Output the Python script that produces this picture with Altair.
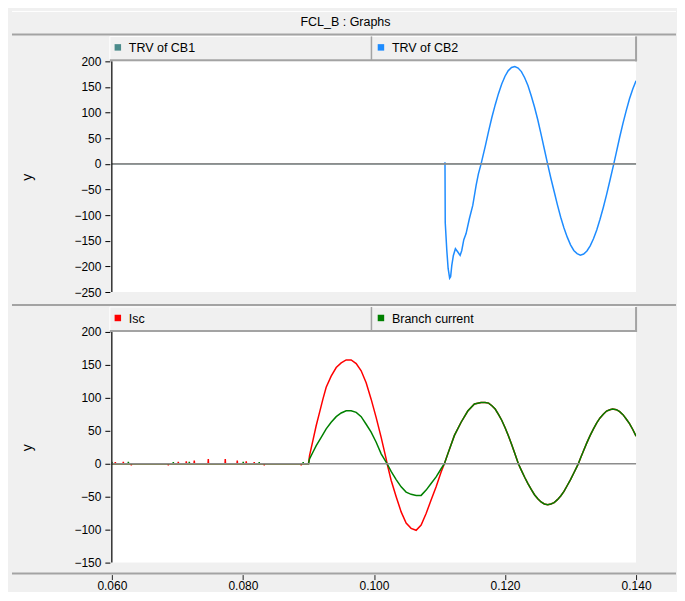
import altair as alt
import pandas as pd

# ---------------- data ----------------
title_text = "FCL_B : Graphs"
x_ticks = [0.06, 0.08, 0.10, 0.12, 0.14]
top_y_ticks = [-250, -200, -150, -100, -50, 0, 50, 100, 150, 200]
bot_y_ticks = [-150, -100, -50, 0, 50, 100, 150, 200]

top_names = ["TRV of CB1", "TRV of CB2"]
top_colors = ["#4a8a8a", "#1e8cff"]
bot_names = ["Isc", "Branch current"]
bot_colors = ["#ff0000", "#008000"]

# TRV of CB1 (flat at zero, hidden under the zero line)
cb1_t = [0.06, 0.14]
cb1_v = [0, 0]

# TRV of CB2
cb2_t = [0.11080, 0.11084, 0.11088, 0.11112, 0.11132, 0.11155, 0.11170, 0.11188,
         0.11212, 0.11243, 0.11280, 0.11315, 0.11340, 0.11371, 0.11406, 0.11456,
         0.11508, 0.11559, 0.11594, 0.11635, 0.1170, 0.1175, 0.1180, 0.1185,
         0.1190, 0.1195, 0.1200, 0.1205, 0.1210, 0.1215, 0.1220, 0.1225, 0.1230,
         0.1235, 0.1240, 0.1245, 0.1250, 0.1255, 0.1260, 0.1265, 0.1270, 0.1275,
         0.1280, 0.1285, 0.1290, 0.1295, 0.1300, 0.1305, 0.1310, 0.1315, 0.1320,
         0.1325, 0.1330, 0.1335, 0.1340, 0.1345, 0.1350, 0.1355, 0.1360, 0.1366,
         0.1370, 0.1375, 0.1380, 0.1385, 0.1390, 0.1395, 0.1400]
cb2_v = [0, 3, -115, -169, -204, -223, -220, -198,
         -178.6, -165.6, -172, -178.6, -169, -148, -136, -107,
         -81, -42, -19.5, 0, 35, 64, 91, 115,
         137, 156, 171, 182, 188, 190, 187, 180, 168,
         153, 133, 111, 86, 58, 29, 0, -28, -54,
         -80, -104, -125, -143, -158, -169, -175, -178, -176,
         -170, -160, -146, -129, -108, -85, -60, -33, 0,
         23, 52, 79, 104, 127, 146, 162]

# common part of Isc and Branch current after ~0.1108 s
tail_t = [0.11127, 0.11228, 0.11330, 0.11432, 0.11533, 0.11635, 0.11696, 0.1175,
          0.1180, 0.1185, 0.1190, 0.1195, 0.1200, 0.1205, 0.1210, 0.1215, 0.12204,
          0.1225, 0.1230, 0.1235, 0.1240, 0.1245, 0.1250, 0.1255, 0.1260, 0.12652,
          0.1270, 0.1275, 0.1280, 0.1285, 0.1290, 0.1295, 0.1300, 0.1305, 0.1310,
          0.13119, 0.1315, 0.1320, 0.1325, 0.1330, 0.1335, 0.1340, 0.1345, 0.1350,
          0.1355, 0.1360, 0.13643, 0.1370, 0.1375, 0.1380, 0.1385, 0.1390, 0.1395,
          0.1400]
tail_v = [15, 43, 63, 80, 90.6, 93, 93, 92,
          88, 83, 75, 66, 55, 43, 29.5, 15.5, 0,
          -10, -20.5, -30, -39, -47, -53, -58, -61, -62,
          -61, -59, -54.5, -49, -42, -33, -24, -14, -4,
          0, 8, 20, 32, 43, 53, 62, 69.5, 75,
          80, 82, 83, 82, 79, 74.5, 68, 61, 52,
          42]

# Isc
isc_t = [0.0600,
         0.06049, 0.06053, 0.06057, 0.06171, 0.06175, 0.06179,
         0.06293, 0.06297, 0.06301, 0.06858, 0.06862, 0.06866,
         0.07010, 0.07014, 0.07018, 0.07132, 0.07136, 0.07140,
         0.07254, 0.07258, 0.07262, 0.07468, 0.07472, 0.07476,
         0.07727, 0.07731, 0.07735, 0.07910, 0.07914, 0.07918,
         0.08047, 0.08051, 0.08055, 0.08169, 0.08173, 0.08177,
         0.08322, 0.08326, 0.08330, 0.08886, 0.08890, 0.08894,
         0.09001, 0.09017, 0.09068, 0.09119, 0.09170, 0.09221, 0.09271, 0.09347,
         0.09424, 0.09500, 0.09576, 0.09652, 0.09729, 0.09805, 0.09881, 0.09957,
         0.10034, 0.10110, 0.10186, 0.10201, 0.10262, 0.10339, 0.10415, 0.10491,
         0.10567, 0.10644, 0.10720, 0.10796, 0.10872, 0.10949, 0.11025, 0.11075] + tail_t
isc_v = [0,
         0, 2.5, 0, 0, 3, 0,
         0, -2.5, 0, 0, -2.5, 0,
         0, 3, 0, 0, 3.5, 0,
         0, 5, 0, 0, 7, 0,
         0, 7, 0, 0, 5, 0,
         0, 3.5, 0, 0, 2.5, 0,
         0, -2.5, 0, 0, -2.5, 0,
         0, 12.5, 35, 58, 78, 98, 116, 133,
         146, 153, 157.5, 157.5, 152, 141, 123, 98,
         70, 40, 7.5, 0, -25, -50, -73, -90,
         -98, -101, -93, -75.5, -55, -35, -12.6, 0] + tail_v

# Branch current
br_t = [0.0600, 0.06004,
        0.06248, 0.06252, 0.06256, 0.06934, 0.06938, 0.06942,
        0.07178, 0.07182, 0.07186, 0.08001, 0.08005, 0.08009,
        0.08245, 0.08249, 0.08253, 0.08916, 0.08920, 0.08924,
        0.09001, 0.09017, 0.09068, 0.09119, 0.09195, 0.09271, 0.09347, 0.09424,
        0.09500, 0.09576, 0.09652, 0.09729, 0.09805, 0.09881, 0.09957, 0.10034,
        0.10110, 0.10186, 0.10201, 0.10262, 0.10339, 0.10415, 0.10491, 0.10567,
        0.10644, 0.10720, 0.10796, 0.10872, 0.10949, 0.11025, 0.11075] + tail_t
br_v = [3, 0,
        0, 3, 0, 0, 2.5, 0,
        0, 3, 0, 0, 3, 0,
        0, 2.5, 0, 0, 2.5, 0,
        0, 7.5, 17.5, 27.6, 40, 53, 63, 71.5,
        77, 80.5, 80.5, 78, 71.5, 60, 48, 32.6,
        15, 2.5, 0, -11.6, -24, -35, -43, -46.4,
        -48, -48, -40, -30, -20, -7.6, 0] + tail_v

# ---------------- chart ----------------
W, H = 525, 231
FONT = "Liberation Sans"
BAR_LINE = "#a3a3a3"
X_DOMAIN = [0.06, 0.14]
RIGHT = 565


def one_row():
    return alt.Chart(pd.DataFrame({"d": [0]}))


def hline(y, x1, x2, color, width):
    return one_row().mark_rule(color=color, strokeWidth=width).encode(
        x=alt.value(x1), x2=alt.value(x2), y=alt.value(y))


def vline(x, y1, y2, color, width):
    return one_row().mark_rule(color=color, strokeWidth=width).encode(
        x=alt.value(x), y=alt.value(y1), y2=alt.value(y2))


def panel(series, names, colors, ydom, yticks, with_x_axis, header):
    xs = alt.Scale(domain=X_DOMAIN, nice=False, zero=False)
    ys = alt.Scale(domain=ydom, nice=False, zero=False)
    if with_x_axis:
        xaxis = alt.Axis(values=x_ticks, format=".3f", offset=12, tickSize=5,
                         domain=False, grid=False, labelPadding=1, title=None,
                         labelFlush=False, labelOverlap=False, labelBound=False,
                         tickColor="#222222")
    else:
        xaxis = None
    yaxis = alt.Axis(values=yticks, offset=2, tickSize=5, domain=False, grid=False,
                     labelPadding=4, labelFlush=False, labelOverlap=False,
                     title="y", titleAngle=270, titleX=-82, titleY=H / 2,
                     titleAlign="center", titleBaseline="middle",
                     titleFontWeight="normal", titleFontSize=14, titleColor="black")
    layers = []
    for (t, v), c in zip(series, colors):
        layers.append(
            alt.Chart(pd.DataFrame({"t": t, "v": v})).mark_line(
                color=c, strokeWidth=1.5, clip=True).encode(
                x=alt.X("t:Q", scale=xs, axis=xaxis),
                y=alt.Y("v:Q", scale=ys, axis=yaxis)))
    # zero line
    layers.append(alt.Chart(pd.DataFrame({"v": [0]})).mark_rule(
        color="#8c8c8c", strokeWidth=1.6).encode(y=alt.Y("v:Q", scale=ys, axis=yaxis)))
    # left axis line
    layers.append(vline(0, 0, H, "black", 1.2))
    # legend bar
    layers.append(one_row().mark_rect(fill="#f0f0f0", stroke="white", strokeWidth=1).encode(
        x=alt.value(-2), x2=alt.value(W), y=alt.value(-25), y2=alt.value(-1)))
    layers.append(vline(W, -25, 0, BAR_LINE, 2))
    layers.append(hline(-1, -2, W + 1, BAR_LINE, 2))
    layers.append(vline(260, -25, -1, BAR_LINE, 1.5))
    for i, (n, c) in enumerate(zip(names, colors)):
        x0 = 6 + i * 263.5
        layers.append(one_row().mark_square(size=42, color=c, opacity=1, filled=True).encode(
            x=alt.value(x0), y=alt.value(-14)))
        layers.append(one_row().mark_text(text=n, align="left", baseline="middle",
                                          font=FONT, fontSize=12.5, color="black").encode(
            x=alt.value(x0 + 11), y=alt.value(-13)))
    # full-width separator above the legend bar
    layers.append(hline(-27, -100, RIGHT, BAR_LINE, 2))
    if header:
        layers.append(hline(-50, -100, RIGHT, "white", 1))
        layers.append(one_row().mark_text(text=header, align="center", baseline="middle",
                                          font=FONT, fontSize=12.5, color="black").encode(
            x=alt.value(234), y=alt.value(-39)))
    if with_x_axis:
        layers.append(hline(H + 11, -100, RIGHT, BAR_LINE, 2))
    return alt.layer(*layers).properties(width=W, height=H)


top = panel([(cb1_t, cb1_v), (cb2_t, cb2_v)], top_names, top_colors,
            [-250, 200], top_y_ticks, False, title_text)
bottom = panel([(isc_t, isc_v), (br_t, br_v)], bot_names, bot_colors,
               [-150, 200], bot_y_ticks, True, None)

chart = alt.vconcat(top, bottom, spacing=40, bounds="flush").properties(
    padding={"left": 3, "top": 2, "right": 0, "bottom": 0},
    background="#f0f0f0",
).configure_view(fill="white", stroke=None).configure_axis(
    labelFont=FONT, titleFont=FONT, labelFontSize=12, labelColor="black",
    tickColor="black")

chart.save("out.html", embed_options={"renderer": "svg", "actions": False})
